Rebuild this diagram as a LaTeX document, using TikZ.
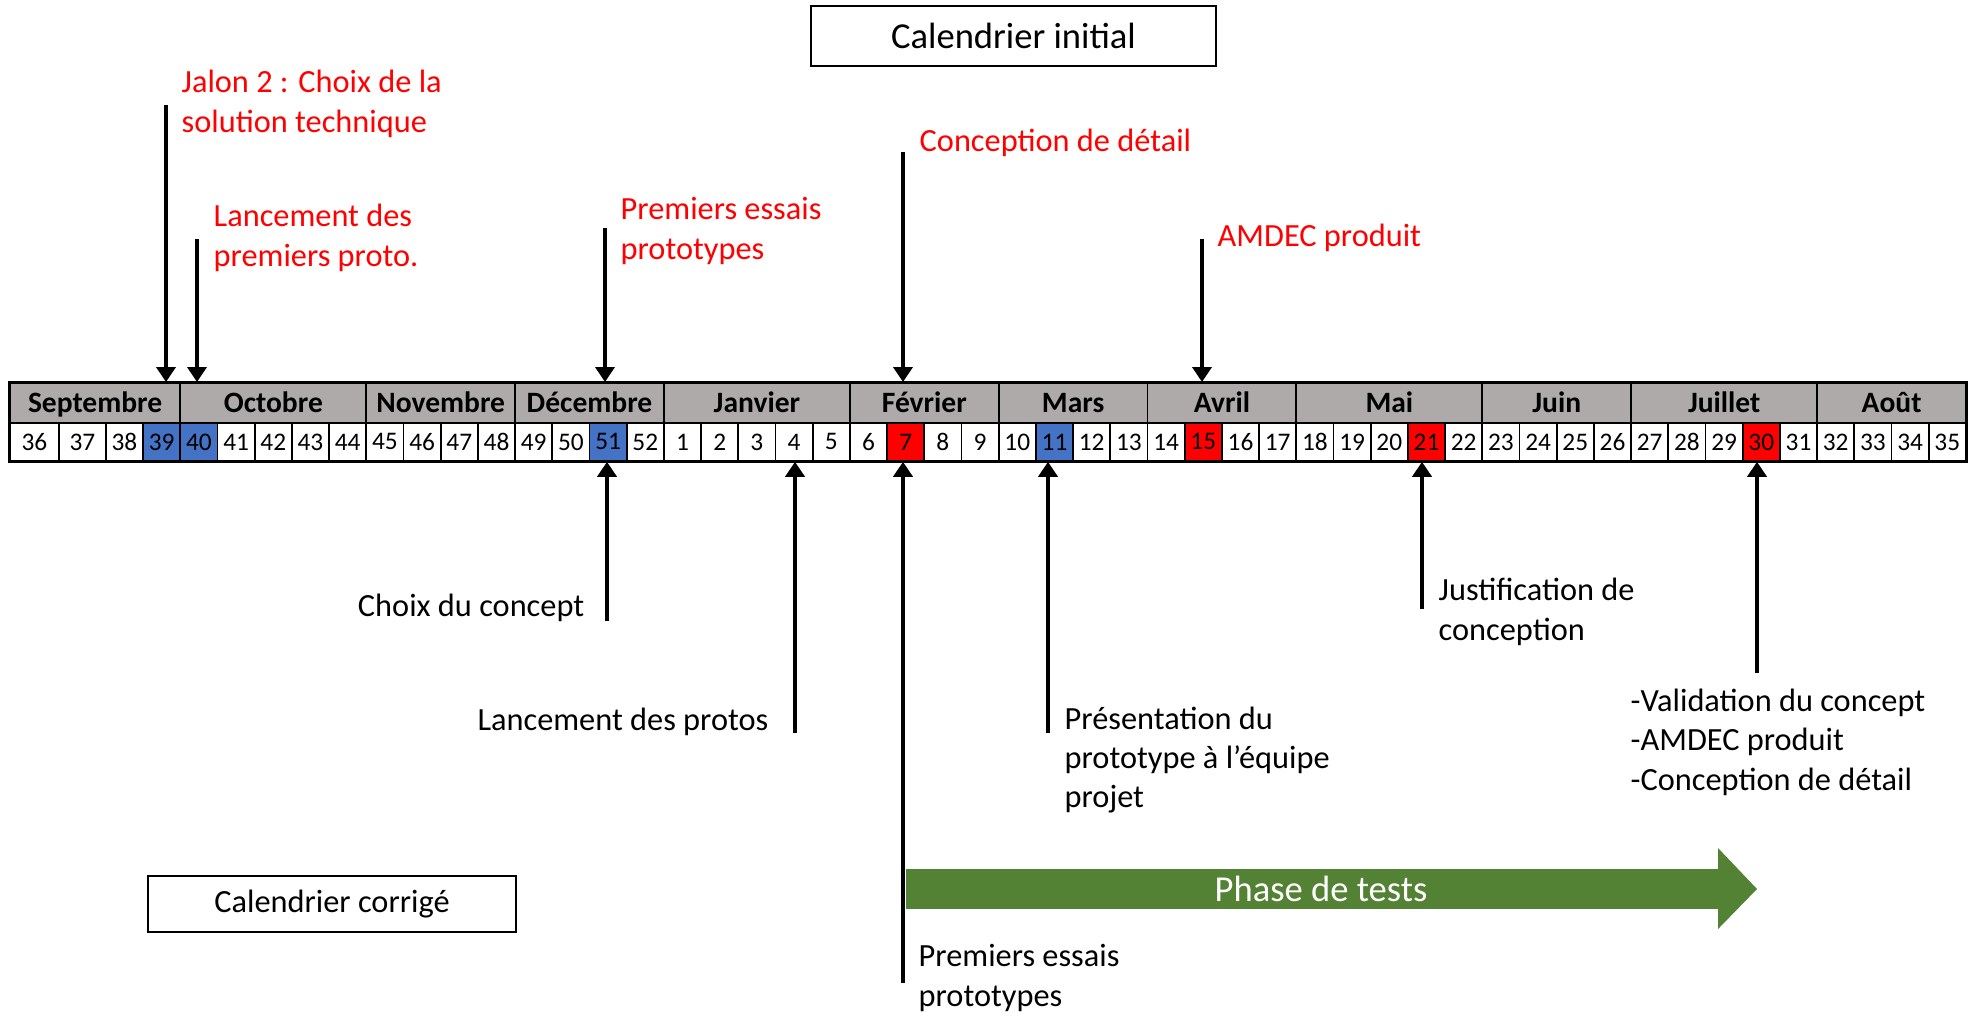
\documentclass[tikz,border=0pt]{standalone}
\usepackage{fontspec}
\setmainfont{Carlito}
\usetikzlibrary{arrows.meta}
\definecolor{moisgris}{RGB}{174,170,170}
\definecolor{bleusem}{RGB}{68,114,196}
\definecolor{rougesem}{RGB}{255,0,0}
\definecolor{vertphase}{RGB}{84,130,53}
\begin{document}
\begin{tikzpicture}
    [x=0.01cm,y=-0.01cm,
     mois/.style={draw,line width=0.5pt,fill=moisgris,anchor=north west,minimum height=0.4cm,inner sep=0,text height=1.5ex,text depth=0.35ex,font=\fontsize{8.4}{10}\selectfont\bfseries},
     sem/.style={draw,line width=0.5pt,fill=white,anchor=north west,minimum width=0.372cm,minimum height=0.38cm,inner sep=0,font=\fontsize{7.2}{8}\selectfont},
     s39/.style={fill=bleusem},s40/.style={fill=bleusem},s51/.style={fill=bleusem},s11/.style={fill=bleusem},
     s7/.style={fill=rougesem},s15/.style={fill=rougesem},s21/.style={fill=rougesem},s30/.style={fill=rougesem},
     jalon/.style={line width=0.04cm,-{Triangle[width=0.19cm,length=0.15cm]}},
     haut/.style={text=red,align=left,anchor=west,inner sep=0,font=\fontsize{9.2}{11.2}\selectfont},
     bas/.style={align=left,anchor=west,inner sep=0,font=\fontsize{9.2}{11.2}\selectfont},
     titre/.style={draw,line width=0.4pt,inner sep=0,font=\fontsize{10.4}{12.5}\selectfont}]
    \useasboundingbox (0,0) rectangle (1973,1017);
    % titres
    \node[titre,minimum width=4.05cm,minimum height=0.6cm] (initial) at (1013.5,36) {Calendrier initial};
    \node[titre,minimum width=3.68cm,minimum height=0.56cm,font=\fontsize{9.2}{12}\selectfont] (corrige) at (332,904) {Calendrier corrigé};
    % mois
    \node[mois,minimum width=1.704cm] (sept) at (9,382) {Septembre};
    \foreach \id/\mname/\first/\nb in {oct/Octobre/2/5,nov/Novembre/7/4,dec/Décembre/11/4,jan/Janvier/15/5,fev/Février/20/4,mars/Mars/24/4,avr/Avril/28/4,mai/Mai/32/5,juin/Juin/37/4,juil/Juillet/41/5,aout/Août/46/4}
      \node[mois,minimum width=\nb*0.372cm] (\id) at ({105+\first*37.2},382) {\mname};
    % semaines
    \node[sem,minimum width=0.49cm] (w36) at (9,422) {36};
    \node[sem,minimum width=0.47cm] (w37) at (58,422) {37};
    \foreach \w [count=\n from 0] in {38,...,52}
      \node[sem,s\w/.try] (w\w) at ({105+\n*37.2},422) {\w};
    \foreach \w [count=\n from 15] in {1,...,35}
      \node[sem,s\w/.try] (w\w) at ({105+\n*37.2},422) {\w};
    \draw[line width=0.8pt] (sept.north west) rectangle (w35.south east);
    % calendrier initial
    \node[haut] (jalon2) at (181,104) {Jalon 2 : Choix de la\\solution technique};
    \node[haut] (lancinit) at (213,238) {Lancement des\\premiers proto.};
    \node[haut] (essaisinit) at (620,231) {Premiers essais\\prototypes};
    \node[haut] (detail) at (919,143) {Conception de détail};
    \node[haut] (amdec) at (1217,238) {AMDEC produit};
    \coordinate (t39) at (166,105);
    \coordinate (t40) at (197,239);
    \coordinate (t51) at (605,228);
    \coordinate (t7) at (903,152);
    \coordinate (t15) at (1202,239);
    \foreach \from/\to in {t39/sept,t40/oct,t51/dec,t7/fev,t15/avr}
      \draw[jalon] (\from) -- (\from |- \to.north);
    % calendrier corrige
    \node[fill=vertphase,anchor=west,minimum width=8.14cm,minimum height=0.4cm,inner sep=0,text=white,font=\fontsize{10.4}{12.5}\selectfont] (phase) at (905,889) {\hspace{0.16cm}Phase de tests};
    \fill[vertphase] (1718,848) -- (1757,889) -- (1718,929) -- cycle;
    \node[bas,anchor=east] (concept) at (585,608) {Choix du concept};
    \node[bas,anchor=east] (lancprotos) at (769,722) {Lancement des protos};
    \node[bas] (essais) at (918,978) {Premiers essais\\prototypes};
    \node[bas] (presentation) at (1064,760) {Présentation du\\prototype à l’équipe\\projet};
    \node[bas] (justif) at (1438,612) {Justification de\\conception};
    \node[bas] (validation) at (1630,742) {-Validation du concept\\-AMDEC produit\\-Conception de détail};
    \coordinate (b51) at (607,621);
    \coordinate (b4) at (795,733);
    \coordinate (b7) at (903,983);
    \coordinate (b11) at (1048,733);
    \coordinate (b21) at (1422,609);
    \coordinate (b30) at (1757,673);
    \foreach \from/\to in {b51/w51,b4/w4,b7/w7,b11/w11,b21/w21,b30/w30}
      \draw[jalon] (\from) -- (\from |- \to.south);
\end{tikzpicture}
\end{document}
